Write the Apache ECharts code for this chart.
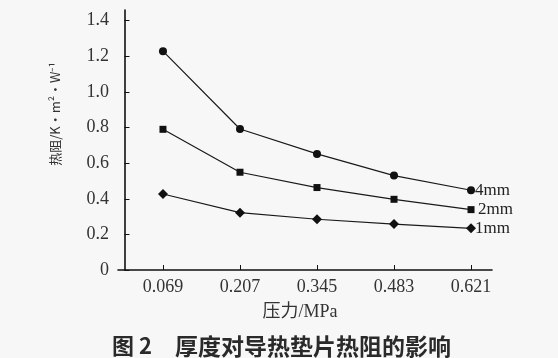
<!DOCTYPE html>
<html><head><meta charset="utf-8">
<script src="https://cdn.jsdelivr.net/npm/echarts@6/dist/echarts.min.js"></script>
<style>html,body{margin:0;padding:0;background:#f7f7f7}#c{width:558px;height:358px}</style>
</head><body><div id="c"></div>
<script>
var pressures = [0.069, 0.207, 0.345, 0.483, 0.621];
var yTicks = [0, 0.2, 0.4, 0.6, 0.8, 1.0, 1.2, 1.4];
var series4mm = [1.229, 0.792, 0.652, 0.530, 0.448];
var series2mm = [0.790, 0.549, 0.463, 0.397, 0.339];
var series1mm = [0.427, 0.322, 0.285, 0.258, 0.234];
var names = ['4mm', '2mm', '1mm'];

var serif = '"Liberation Serif", "DejaVu Serif", serif';
var chart = echarts.init(document.getElementById('c'));
function mk(name, vals, sym, size, off) {
  return {
    name: name, type: 'line', data: pressures.map(function (p, i) { return [p, vals[i]]; }),
    symbol: sym, symbolSize: size, showSymbol: true,
    lineStyle: { color: '#1a1a1a', width: 1.2 },
    itemStyle: { color: '#111' },
    endLabel: { show: true, formatter: name, fontFamily: serif, fontSize: 17, color: '#222', distance: 3, offset: off },
    animation: false
  };
}
chart.setOption({
  backgroundColor: '#f7f7f7',
  animation: false,
  grid: { left: 118, top: 10, right: 66, bottom: 88 },
  xAxis: {
    type: 'value', min: -0.0116, max: 0.6586,
    axisLine: { lineStyle: { color: '#111', width: 1.6 } },
    axisTick: { show: true, inside: true, length: 5, customValues: pressures, lineStyle: { color: '#111' } },
    axisLabel: { customValues: pressures, fontFamily: serif, fontSize: 18, color: '#333', margin: 8,
      formatter: function (v) { return v.toFixed(3); } },
    splitLine: { show: false }
  },
  yAxis: {
    type: 'value', min: 0, max: 1.46,
    axisLine: { show: true, lineStyle: { color: '#111', width: 1.6 } },
    axisTick: { show: true, inside: true, length: 5, customValues: yTicks, lineStyle: { color: '#111' } },
    axisLabel: { customValues: yTicks, fontFamily: serif, fontSize: 18, color: '#333', margin: 9,
      formatter: function (v) { return v === 0 ? '0' : v.toFixed(1); } },
    splitLine: { show: false }
  },
  graphic: [
    { type: 'text', x: 55, y: 114, rotation: Math.PI / 2, style: { text: '热阻/K·m²·W⁻¹', font: '13px "Noto Sans CJK SC", sans-serif', fill: '#333', textAlign: 'center', textVerticalAlign: 'middle' } },
    { type: 'text', x: 300, y: 312, style: { text: '压力/MPa', font: '18px ' + serif + ', "Noto Sans CJK SC"', fill: '#333', textAlign: 'center', textVerticalAlign: 'middle' } },
    { type: 'text', x: 112, y: 346, style: { text: '图 2', font: 'bold 22px "Noto Sans CJK SC", sans-serif', fill: '#2a2a2a', textAlign: 'left', textVerticalAlign: 'middle' } },
    { type: 'text', x: 175, y: 346, style: { text: '厚度对导热垫片热阻的影响', font: 'bold 23px "Noto Sans CJK SC", sans-serif', fill: '#2a2a2a', textAlign: 'left', textVerticalAlign: 'middle' } }
  ],
  series: [
    mk(names[0], series4mm, 'circle', 8, [1, 0]),
    mk(names[1], series2mm, 'rect', 7, [4, 0]),
    mk(names[2], series1mm, 'diamond', 10, [1, 0])
  ]
});
</script></body></html>
